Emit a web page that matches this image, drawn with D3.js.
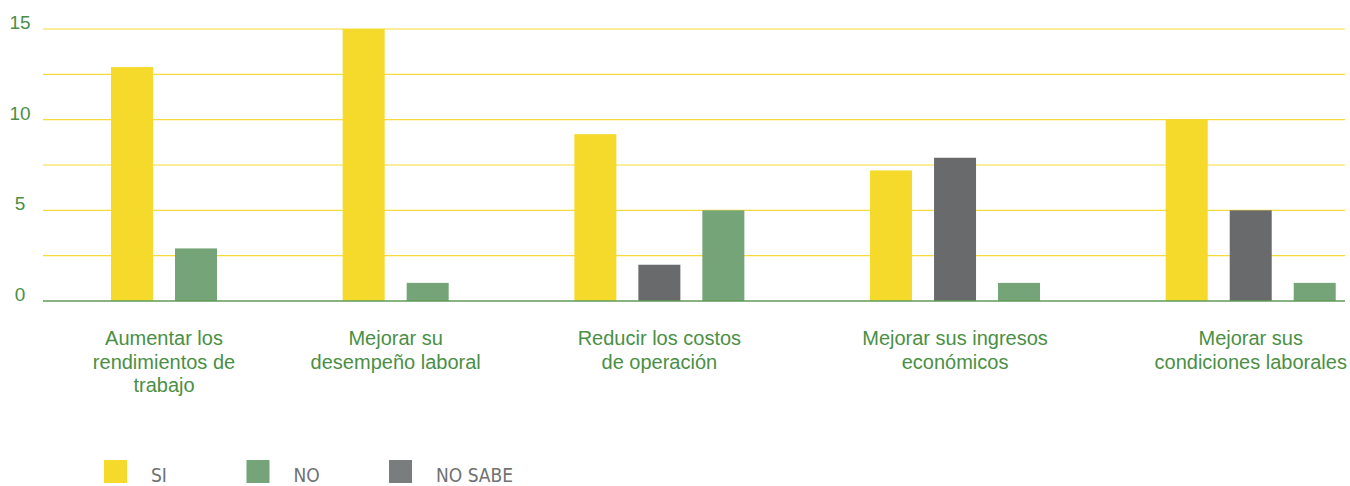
<!DOCTYPE html>
<html>
<head>
<meta charset="utf-8">
<script src="https://cdn.jsdelivr.net/npm/d3@7"></script>
<style>
  html, body { margin: 0; padding: 0; background: #ffffff; }
  svg { display: block; }
</style>
</head>
<body>
<svg id="chart" width="1350" height="486"></svg>
<script>
// ---- data ----
const categories = [
  "Aumentar los\nrendimientos de\ntrabajo",
  "Mejorar su\ndesempeño laboral",
  "Reducir los costos\nde operación",
  "Mejorar sus ingresos\neconómicos",
  "Mejorar sus\ncondiciones laborales"
];
const seriesNames = ["SI", "NO SABE", "NO"];          // bar order inside a group
const legendNames = ["SI", "NO", "NO SABE"];          // legend order
const siValues     = [12.9, 15, 9.2, 7.2, 10];
const noSabeValues = [0, 0, 2, 7.9, 5];
const noValues     = [2.9, 1, 5, 1, 1];
const gridTicks = [0, 2.5, 5, 7.5, 10, 12.5, 15];
const labelTicks = [0, 5, 10, 15];

const seriesValues = { "SI": siValues, "NO SABE": noSabeValues, "NO": noValues };
const colors = { "SI": "#f5d92b", "NO": "#74a477", "NO SABE": "#696a6b" };
const legendColors = { "SI": "#f5d92b", "NO": "#74a477", "NO SABE": "#7a7d7e" };

// ---- layout ----
const svg = d3.select("#chart");
const plotLeft = 43, plotRight = 1345;
const y = d3.scaleLinear().domain([0, 15]).range([301, 29]);
const groupGap = 1.62;   // gap between groups, in bar-slot units
const barW = 42;
const textGreen = "#4a8f45";

// build slot positions (bars with value 0 are omitted and the group closes up)
const barData = [];
const groupInfo = [];
let slot = 0;
categories.forEach((c, i) => {
  const present = seriesNames.filter(s => seriesValues[s][i] > 0);
  const first = slot + i * groupGap;
  present.forEach((s, k) => {
    barData.push({ cat: c, series: s, value: seriesValues[s][i], pos: first + k });
  });
  groupInfo.push({ cat: c, first: first, last: first + present.length - 1 });
  slot += present.length;
});
const maxPos = d3.max(barData, d => d.pos);
const x = d3.scaleLinear().domain([0, maxPos]).range([111, 111 + 64 * maxPos]);

// gridlines
svg.append("g").selectAll("line").data(gridTicks.filter(d => d > 0)).join("line")
  .attr("x1", plotLeft).attr("x2", plotRight)
  .attr("y1", d => y(d)).attr("y2", d => y(d))
  .attr("stroke", "#f6dc3a").attr("stroke-width", 1.2);

// y tick labels
svg.append("g").selectAll("text").data(labelTicks).join("text")
  .attr("x", 20).attr("y", d => y(d))
  .attr("text-anchor", "middle")
  .attr("font-family", "'Liberation Sans', Arial, sans-serif")
  .attr("font-size", 19)
  .attr("fill", textGreen)
  .text(d => d);

// bars
svg.append("g").selectAll("rect").data(barData).join("rect")
  .attr("x", d => x(d.pos))
  .attr("width", barW)
  .attr("y", d => y(d.value))
  .attr("height", d => y(0) - y(d.value))
  .attr("fill", d => colors[d.series]);

// baseline
svg.append("line")
  .attr("x1", plotLeft).attr("x2", plotRight)
  .attr("y1", y(0)).attr("y2", y(0))
  .attr("stroke", "#5f9a57").attr("stroke-width", 1.6);

// category labels
const catG = svg.append("g").selectAll("text").data(groupInfo).join("text")
  .attr("text-anchor", "middle")
  .attr("font-family", "'Liberation Sans', Arial, sans-serif")
  .attr("font-size", 20)
  .attr("fill", textGreen)
  .attr("transform", d => `translate(${(x(d.first) + x(d.last) + barW) / 2},345)`);
catG.selectAll("tspan").data(d => d.cat.split("\n")).join("tspan")
  .attr("x", 0).attr("y", (d, i) => i * 23.5)
  .text(d => d);

// legend
const lx = d3.scalePoint().domain(legendNames).range([104, 389]);
const lg = svg.append("g").selectAll("g").data(legendNames).join("g")
  .attr("transform", d => `translate(${lx(d)},460)`);
lg.append("rect").attr("width", 23).attr("height", 23).attr("fill", d => legendColors[d]);
lg.append("text")
  .attr("x", 47).attr("y", 22)
  .attr("font-family", "'DejaVu Sans Condensed', 'Liberation Sans', sans-serif")
  .attr("font-size", 19)
  .attr("fill", "#6f7173")
  .text(d => d);
</script>
</body>
</html>
